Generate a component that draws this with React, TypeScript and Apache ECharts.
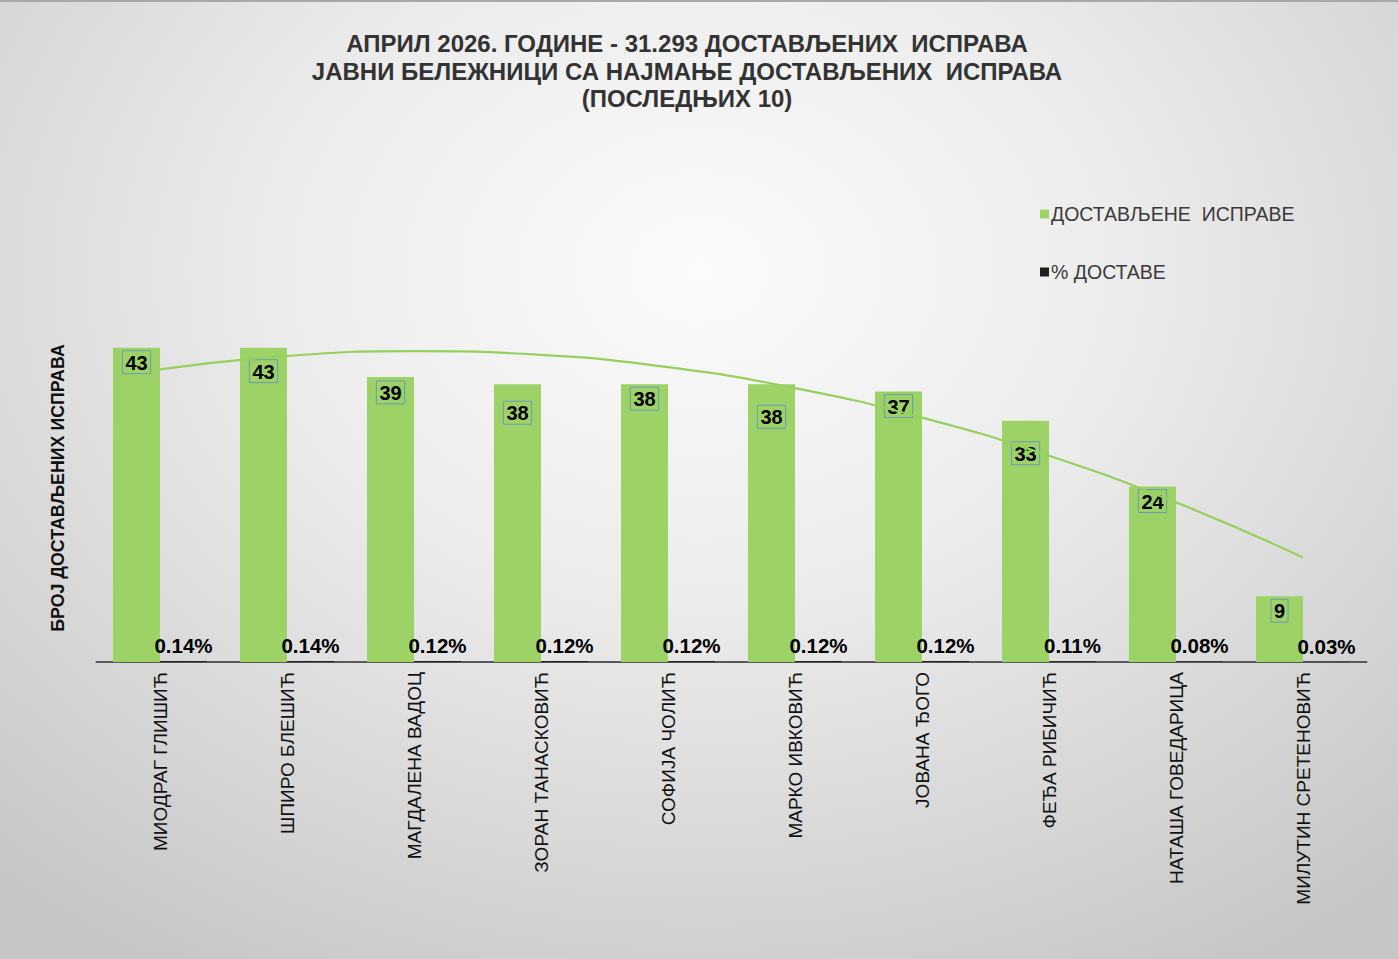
import React, { useEffect, useRef } from "react";
import * as echarts from "echarts";

const categories = [
  "МИОДРАГ ГЛИШИЋ",
  "ШПИРО БЛЕШИЋ",
  "МАГДАЛЕНА ВАДОЦ",
  "ЗОРАН ТАНАСКОВИЋ",
  "СОФИЈА ЧОЛИЋ",
  "МАРКО ИВКОВИЋ",
  "ЈОВАНА ЂОГО",
  "ФЕЂА РИБИЧИЋ",
  "НАТАША ГОВЕДАРИЦА",
  "МИЛУТИН СРЕТЕНОВИЋ",
];
const delivered = [43, 43, 39, 38, 38, 38, 37, 33, 24, 9];
const percent = [0.14, 0.14, 0.12, 0.12, 0.12, 0.12, 0.12, 0.11, 0.08, 0.03];

const titleLines = [
  "АПРИЛ 2026. ГОДИНЕ - 31.293 ДОСТАВЉЕНИХ  ИСПРАВА",
  "ЈАВНИ БЕЛЕЖНИЦИ СА НАЈМАЊЕ ДОСТАВЉЕНИХ  ИСПРАВА",
  "(ПОСЛЕДЊИХ 10)",
];
const seriesNames = ["ДОСТАВЉЕНЕ  ИСПРАВЕ", "% ДОСТАВЕ"];
const yAxisTitle = "БРОЈ ДОСТАВЉЕНИХ ИСПРАВА";

// label nudges (style only)
const labelNudge = [0, 9, 1, 14, 0, 18, 0, 18, 0, 0];

// polynomial (order 2) least-squares trendline, computed from the data
function quadFit(ys: number[]): number[] {
  const n = ys.length;
  const xs = ys.map((_, i) => i + 1);
  let s0 = n, s1 = 0, s2 = 0, s3 = 0, s4 = 0, t0 = 0, t1 = 0, t2 = 0;
  xs.forEach((x, i) => {
    const y = ys[i];
    s1 += x; s2 += x * x; s3 += x ** 3; s4 += x ** 4;
    t0 += y; t1 += x * y; t2 += x * x * y;
  });
  const M = [
    [s0, s1, s2, t0],
    [s1, s2, s3, t1],
    [s2, s3, s4, t2],
  ];
  for (let c = 0; c < 3; c++) {
    for (let r = c + 1; r < 3; r++) {
      const f = M[r][c] / M[c][c];
      for (let k = c; k < 4; k++) M[r][k] -= f * M[c][k];
    }
  }
  const coef = [0, 0, 0];
  for (let r = 2; r >= 0; r--) {
    let s = M[r][3];
    for (let k = r + 1; k < 3; k++) s -= M[r][k] * coef[k];
    coef[r] = s / M[r][r];
  }
  return xs.map((x) => coef[0] + coef[1] * x + coef[2] * x * x);
}

const FONT = "'Liberation Sans', Arial, sans-serif";

export default function App() {
  const ref = useRef<HTMLDivElement>(null);
  useEffect(() => {
    if (!ref.current) return;
    const chart = echarts.init(ref.current, undefined, { renderer: "svg" });
    const trend = quadFit(delivered);
    chart.setOption({
      animation: false,
      title: {
        text: titleLines.join("\n"),
        left: 682,
        top: 23,
        textAlign: "center",
        textStyle: {
          fontFamily: FONT,
          fontWeight: "bold",
          fontSize: 24,
          lineHeight: 27.5,
          color: "#333333",
        },
      },
      legend: {
        orient: "vertical",
        left: 1035,
        top: 197,
        itemWidth: 9,
        itemHeight: 9,
        itemGap: 38,
        icon: "rect",
        data: seriesNames,
        textStyle: {
          fontFamily: FONT,
          fontSize: 19.5,
          color: "#3a3a3a",
          padding: [0, 0, 0, -3],
        },
      },
      graphic: [
        {
          type: "text",
          x: 58,
          y: 486,
          rotation: Math.PI / 2,
          style: {
            text: yAxisTitle,
            fontFamily: FONT,
            fontWeight: "bold",
            fontSize: 17.8,
            fill: "#111",
            align: "center",
            verticalAlign: "middle",
          },
        },
      ],
      grid: { left: 96.5, right: 31.5, top: 294.5, bottom: 297 },
      xAxis: {
        type: "category",
        data: categories,
        axisLine: { lineStyle: { color: "#595959", width: 2 } },
        axisTick: { show: false },
        axisLabel: {
          rotate: 90,
          margin: 10,
          fontFamily: FONT,
          fontSize: 19,
          color: "#111",
          interval: 0,
        },
      },
      yAxis: {
        type: "value",
        min: 0,
        max: 50,
        show: false,
        splitLine: { show: false },
      },
      series: [
        {
          name: seriesNames[0],
          type: "bar",
          barWidth: 47,
          barGap: "0%",
          itemStyle: { color: "#9dd366" },
          z: 2,
          data: delivered.map((v, i) => ({
            value: v,
            label: { offset: [0, labelNudge[i]] },
          })),
          label: {
            show: true,
            position: "insideTop",
            distance: 3,
            fontFamily: FONT,
            fontWeight: "bold",
            fontSize: 20,
            lineHeight: 20,
            color: "#000",
            borderColor: "#6b9bb8",
            borderWidth: 1,
            padding: [2, 3, 1, 3],
          },
        },
        {
          name: seriesNames[1],
          type: "bar",
          barWidth: 47,
          barGap: "0%",
          itemStyle: { color: "#1f1f1f" },
          z: 2,
          data: percent,
          label: {
            show: true,
            position: "top",
            distance: 5,
            formatter: (p: any) => Number(p.value).toFixed(2) + "%",
            fontFamily: FONT,
            fontWeight: "bold",
            fontSize: 20.5,
            color: "#000",
          },
        },
        {
          name: "trend",
          type: "line",
          data: trend,
          smooth: true,
          symbol: "none",
          z: 5,
          lineStyle: { color: "#96d05e", width: 2.2 },
          silent: true,
        },
      ],
    });
    return () => chart.dispose();
  }, []);
  return (
    <div
      ref={ref}
      style={{
        position: "absolute",
        left: 0,
        top: 0,
        width: 1398,
        height: 959,
        background:
          "radial-gradient(ellipse 75% 85% at 50% 28%, #fbfbfb 0%, #ececec 40%, #d6d6d6 75%, #c6c6c6 100%)",
        borderTop: "2px solid #a8a8a8",
        boxSizing: "border-box",
      }}
    />
  );
}
